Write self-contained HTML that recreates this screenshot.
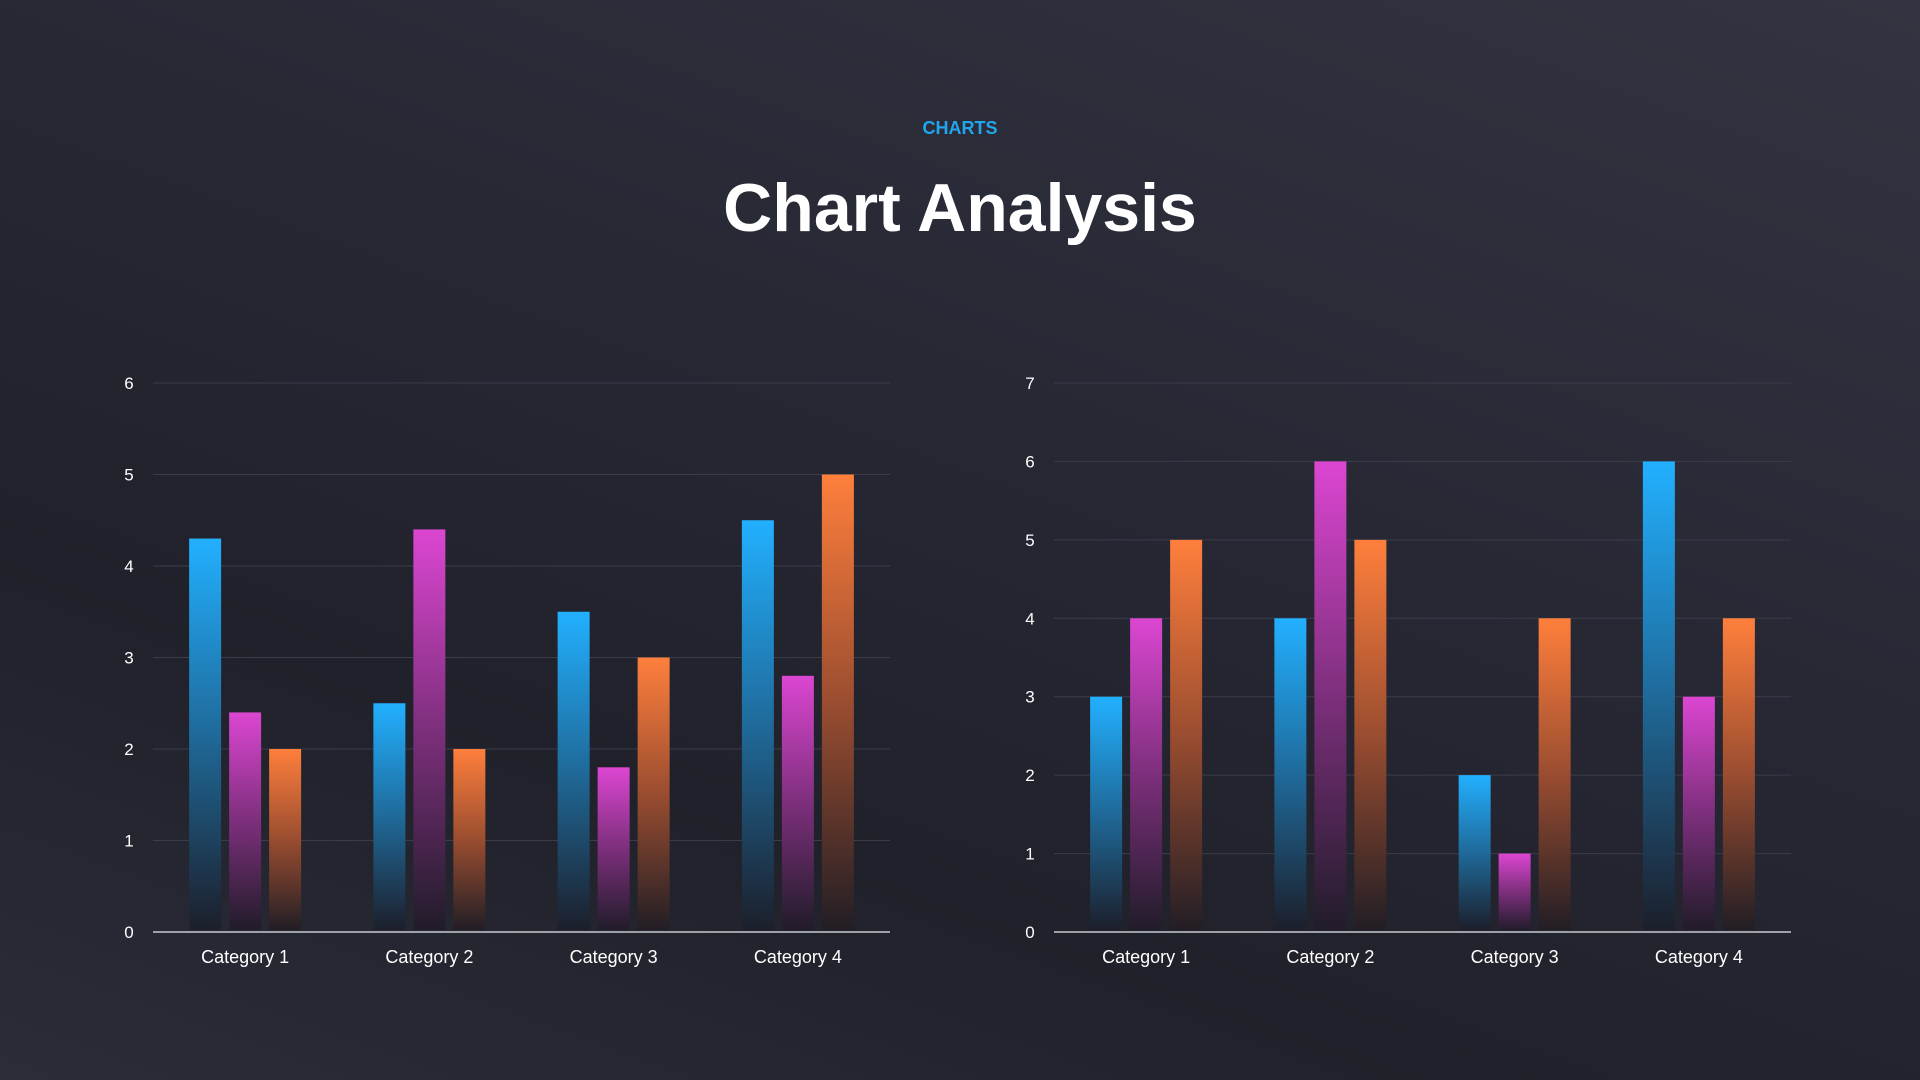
<!DOCTYPE html>
<html><head><meta charset="utf-8"><style>
html,body{margin:0;padding:0;width:1920px;height:1080px;overflow:hidden}
body{background:linear-gradient(200deg,#323441 0%,#262733 45%,#20212a 70%,#2a2c38 100%)}
svg{position:absolute;left:0;top:0}
text{font-family:"Liberation Sans",sans-serif}
</style></head><body>
<svg width="1920" height="1080" viewBox="0 0 1920 1080">
<defs>
<linearGradient id="gb" x1="0" y1="0" x2="0" y2="1"><stop offset="0" stop-color="#22b0ff"/><stop offset="0.5" stop-color="#1f6a9a"/><stop offset="1" stop-color="#1c1f2b"/></linearGradient>
<linearGradient id="gp" x1="0" y1="0" x2="0" y2="1"><stop offset="0" stop-color="#dc46d2"/><stop offset="0.5" stop-color="#7d2f7c"/><stop offset="1" stop-color="#211c2a"/></linearGradient>
<linearGradient id="go" x1="0" y1="0" x2="0" y2="1"><stop offset="0" stop-color="#ff7f3c"/><stop offset="0.5" stop-color="#9a4d30"/><stop offset="1" stop-color="#221e25"/></linearGradient>
</defs>
<text x="960" y="134" text-anchor="middle" font-size="18" font-weight="bold" fill="#21a6ee">CHARTS</text>
<text x="960" y="231" text-anchor="middle" font-size="68" font-weight="bold" fill="#fff">Chart Analysis</text>
<g id="c"></g>
</svg>
<script>
var g=document.getElementById('c'),s='';
function chart(x0,x1,max,data){
 var y0=932,yt=383,u=(y0-yt)/max;
 for(var i=0;i<=max;i++){var y=y0-i*u;
  if(i>0)s+='<line x1="'+x0+'" x2="'+x1+'" y1="'+y+'" y2="'+y+'" stroke="#3a3c4a" stroke-width="1"/>';
  s+='<text x="'+(x0-24)+'" y="'+(y+6)+'" text-anchor="middle" font-size="17" fill="#fff">'+i+'</text>';}
 var cw=(x1-x0)/4,gr=['gb','gp','go'];
 for(var c=0;c<4;c++){var cx=x0+cw*(c+0.5);
  for(var k=0;k<3;k++){var v=data[c][k],h=v*u,bx=cx-56+k*40;
   s+='<rect x="'+bx+'" y="'+(y0-h)+'" width="32" height="'+(h-2)+'" fill="url(#'+gr[k]+')"/>';}
  s+='<text x="'+cx+'" y="963" text-anchor="middle" font-size="18" fill="#fff">Category '+(c+1)+'</text>';}
 s+='<line x1="'+x0+'" x2="'+x1+'" y1="'+y0+'" y2="'+y0+'" stroke="#c8c9d0" stroke-width="1.5"/>';
}
chart(153,890,6,[[4.3,2.4,2],[2.5,4.4,2],[3.5,1.8,3],[4.5,2.8,5]]);
chart(1054,1791,7,[[3,4,5],[4,6,5],[2,1,4],[6,3,4]]);
g.innerHTML=s;
</script>
</body></html>
